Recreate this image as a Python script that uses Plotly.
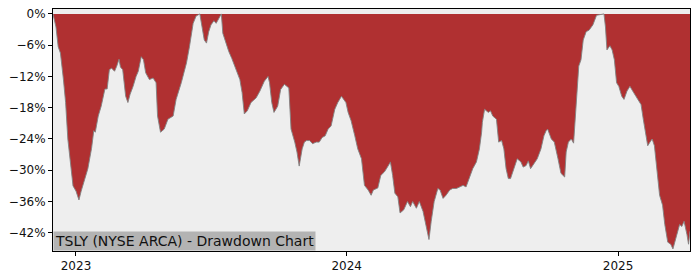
import plotly.graph_objects as go

dates = [
    "2022-12-01", "2022-12-05", "2022-12-08", "2022-12-11", "2022-12-15", "2022-12-18", "2022-12-21",
    "2022-12-26", "2022-12-28", "2023-01-01", "2023-01-05", "2023-01-08", "2023-01-12", "2023-01-17",
    "2023-01-22", "2023-01-25", "2023-01-27", "2023-01-31", "2023-02-04", "2023-02-09", "2023-02-12",
    "2023-02-15", "2023-02-18", "2023-02-22", "2023-02-25", "2023-02-28", "2023-03-02", "2023-03-05",
    "2023-03-09", "2023-03-12", "2023-03-15", "2023-03-19", "2023-03-23", "2023-03-26", "2023-03-30",
    "2023-04-02", "2023-04-05", "2023-04-10", "2023-04-15", "2023-04-19", "2023-04-21", "2023-04-25",
    "2023-04-30", "2023-05-05", "2023-05-12", "2023-05-16", "2023-05-23", "2023-05-30", "2023-06-03",
    "2023-06-08", "2023-06-12", "2023-06-17", "2023-06-20", "2023-06-23", "2023-06-26", "2023-06-29",
    "2023-07-02", "2023-07-06", "2023-07-09", "2023-07-12", "2023-07-16", "2023-07-18", "2023-07-22",
    "2023-07-26", "2023-07-30", "2023-08-05", "2023-08-10", "2023-08-13", "2023-08-16", "2023-08-20",
    "2023-08-25", "2023-09-01", "2023-09-06", "2023-09-12", "2023-09-17", "2023-09-19", "2023-09-22",
    "2023-09-25", "2023-09-30", "2023-10-04", "2023-10-09", "2023-10-15", "2023-10-18", "2023-10-23",
    "2023-10-26", "2023-10-29", "2023-11-02", "2023-11-05", "2023-11-08", "2023-11-12", "2023-11-16",
    "2023-11-21", "2023-11-25", "2023-11-29", "2023-12-03", "2023-12-07", "2023-12-11", "2023-12-16",
    "2023-12-20", "2023-12-25", "2023-12-28", "2023-12-31", "2024-01-03", "2024-01-07", "2024-01-12",
    "2024-01-16", "2024-01-21", "2024-01-25", "2024-01-30", "2024-02-03", "2024-02-06", "2024-02-12",
    "2024-02-16", "2024-02-21", "2024-02-25", "2024-02-29", "2024-03-03", "2024-03-06", "2024-03-10",
    "2024-03-13", "2024-03-18", "2024-03-23", "2024-03-27", "2024-03-30", "2024-04-04", "2024-04-08",
    "2024-04-13", "2024-04-17", "2024-04-21", "2024-04-24", "2024-04-28", "2024-05-03", "2024-05-06",
    "2024-05-10", "2024-05-14", "2024-05-19", "2024-05-23", "2024-05-28", "2024-06-01", "2024-06-06",
    "2024-06-10", "2024-06-15", "2024-06-19", "2024-06-24", "2024-06-28", "2024-07-01", "2024-07-02",
    "2024-07-05", "2024-07-10", "2024-07-13", "2024-07-16", "2024-07-21", "2024-07-24", "2024-07-28",
    "2024-07-31", "2024-08-03", "2024-08-06", "2024-08-09", "2024-08-14", "2024-08-18", "2024-08-23",
    "2024-08-26", "2024-08-30", "2024-09-02", "2024-09-05", "2024-09-10", "2024-09-14", "2024-09-19",
    "2024-09-23", "2024-09-26", "2024-09-28", "2024-10-03", "2024-10-07", "2024-10-12", "2024-10-16",
    "2024-10-21", "2024-10-23", "2024-10-26", "2024-10-30", "2024-11-02", "2024-11-05", "2024-11-09",
    "2024-11-12", "2024-11-15", "2024-11-19", "2024-11-23", "2024-11-28", "2024-11-30", "2024-12-03",
    "2024-12-13", "2024-12-15", "2024-12-17", "2024-12-21", "2024-12-24", "2024-12-27", "2024-12-30",
    "2025-01-02", "2025-01-06", "2025-01-09", "2025-01-13", "2025-01-17", "2025-01-22", "2025-01-27",
    "2025-02-01", "2025-02-04", "2025-02-07", "2025-02-10", "2025-02-13", "2025-02-16", "2025-02-19",
    "2025-02-23", "2025-02-26", "2025-03-02", "2025-03-05", "2025-03-09", "2025-03-13", "2025-03-16",
    "2025-03-20", "2025-03-25", "2025-03-28", "2025-03-31", "2025-04-04", "2025-04-06", "2025-04-08",
]

drawdown = [
    0.0, -2.5, -6.3, -7.5, -12.5, -17.0, -24.0,
    -30.0, -33.0, -34.0, -35.7, -34.0, -32.0, -29.7,
    -25.8, -22.4, -22.7, -19.6, -17.7, -14.4, -14.4,
    -10.7, -10.4, -11.0, -10.0, -8.7, -10.2, -10.7,
    -15.8, -17.0, -15.4, -13.9, -12.0, -11.0, -8.2,
    -8.8, -11.3, -12.6, -12.3, -13.2, -19.6, -22.7,
    -22.1, -20.2, -19.6, -16.4, -13.2, -9.4, -6.3,
    -1.8, -0.4, 0.0, -2.5, -5.0, -5.6, -3.4,
    -2.1, -1.3, -1.8, -0.9, 0.0, -3.7, -5.6,
    -7.2, -8.5, -10.7, -12.6, -15.1, -19.2, -18.6,
    -17.0, -16.1, -14.8, -12.9, -12.0, -13.2, -17.0,
    -18.9, -17.7, -14.5, -13.5, -14.2, -22.1, -24.6,
    -26.5, -29.2, -25.9, -24.6, -24.3, -24.3, -24.9,
    -24.6, -24.6, -23.7, -23.4, -22.1, -21.5, -18.3,
    -17.0, -15.8, -16.4, -17.0, -18.9, -20.5, -23.4,
    -25.9, -27.8, -32.9, -33.8, -34.8, -33.8, -33.4,
    -31.0, -30.3, -29.4, -28.4, -31.0, -34.4, -35.1,
    -38.2, -37.6, -36.0, -37.0, -36.0, -37.3, -36.0,
    -37.9, -40.8, -43.3, -39.8, -36.0, -33.5, -33.8,
    -35.4, -34.8, -33.8, -33.5, -33.5, -33.2, -32.9,
    -33.2, -31.0, -29.7, -28.4, -25.9, -22.7, -20.8,
    -18.3, -18.9, -18.6, -19.6, -20.2, -24.6, -24.3,
    -25.9, -29.7, -31.6, -31.6, -29.7, -27.8, -28.4,
    -29.4, -29.1, -28.2, -29.7, -28.7, -27.8, -25.9,
    -23.4, -22.4, -22.1, -24.0, -24.6, -27.8, -30.6,
    -31.3, -26.5, -24.6, -24.0, -24.8, -17.7, -10.0,
    -8.8, -5.0, -3.4, -3.1, -2.1, -1.2, -0.25,
    0.0, -2.5, -6.9, -6.1, -6.9, -8.8, -13.2,
    -13.9, -15.8, -16.4, -14.8, -13.9, -15.1, -16.4,
    -17.4, -20.2, -22.7, -25.3, -24.6, -24.0, -25.3,
    -30.3, -34.8, -36.7, -40.4, -43.8, -44.2, -45.1,
    -43.0, -40.4, -40.8, -39.8, -42.4, -44.2, -41.7,
]

y_ticks = [0, -6, -12, -18, -24, -30, -36, -42]
y_tick_labels = ["0%", "\u22126%", "\u221212%", "\u221218%", "\u221224%", "\u221230%", "\u221236%", "\u221242%"]
x_ticks = ["2023-01-01", "2024-01-01", "2025-01-01"]
x_tick_labels = ["2023", "2024", "2025"]
title_text = "TSLY (NYSE ARCA) - Drawdown Chart"

RED = "#b03031"

fig = go.Figure()
fig.add_trace(go.Scatter(
    x=dates, y=[0.0] * len(dates), mode="lines",
    line=dict(width=0, color=RED), hoverinfo="skip", showlegend=False,
))
fig.add_trace(go.Scatter(
    x=dates, y=drawdown, mode="lines",
    line=dict(width=1, color="rgba(130,130,130,0.9)"),
    fill="tonexty", fillcolor=RED, showlegend=False,
))

fig.update_layout(
    width=700, height=280,
    margin=dict(l=53, r=10, t=7, b=28),
    paper_bgcolor="white",
    plot_bgcolor="#eeeeee",
    font=dict(family="DejaVu Sans", size=12, color="#111111"),
    showlegend=False,
)
fig.update_xaxes(
    range=[dates[0], dates[-1]],
    tickvals=x_ticks, ticktext=x_tick_labels,
    showgrid=False, zeroline=False,
    showline=True, linecolor="black", linewidth=1, mirror=True,
    ticks="outside", ticklen=4, tickcolor="black",
)
fig.update_yaxes(
    range=[-45.5, 0.95],
    tickvals=y_ticks, ticktext=y_tick_labels,
    showgrid=False, zeroline=False,
    showline=True, linecolor="black", linewidth=1, mirror=True,
    ticks="outside", ticklen=4, tickcolor="black",
)
fig.add_annotation(
    text=title_text, xref="paper", yref="paper", x=0, y=0,
    xanchor="left", yanchor="bottom", showarrow=False,
    font=dict(family="DejaVu Sans", size=14, color="#111111"),
    bgcolor="#b3b3b3", borderpad=1,
)

fig.write_html("out.html")
